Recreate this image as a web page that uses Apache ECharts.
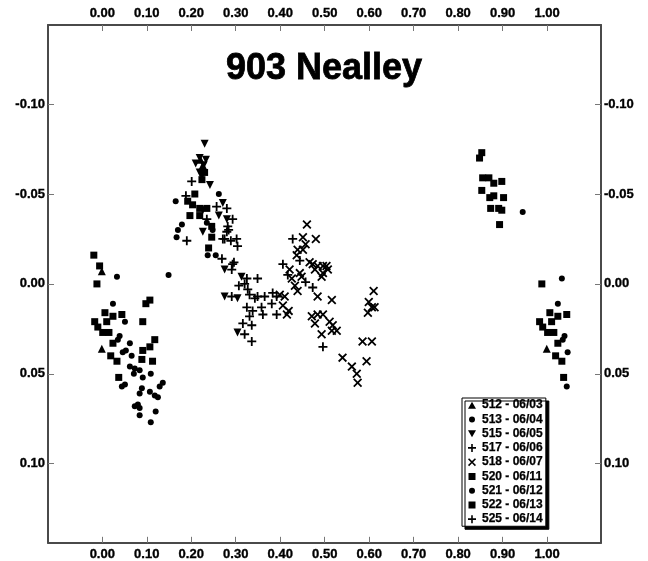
<!DOCTYPE html>
<html>
<head>
<meta charset="utf-8">
<title>903 Nealley</title>
<script src="https://cdn.jsdelivr.net/npm/echarts@6/dist/echarts.min.js"></script>
<style>
  html, body { margin: 0; padding: 0; background: #fff; }
  #chart { width: 648px; height: 561px; }
</style>
</head>
<body>
<div id="chart"></div>
<script>
// Tick positions for the phase (x) and differential magnitude (y) axes
const xTicks = [0.00, 0.10, 0.20, 0.30, 0.40, 0.50, 0.60, 0.70, 0.80, 0.90, 1.00];
const yTicks = [-0.10, -0.05, 0.00, 0.05, 0.10];

// Session labels (run number - date)
const sessionNames = ['512 - 06/03', '513 - 06/04', '515 - 06/05', '517 - 06/06', '518 - 06/07',
                      '520 - 06/11', '521 - 06/12', '522 - 06/13', '525 - 06/14'];

// Observations per session: [phase, delta magnitude]
const s512 = [[-0.001,0.036],[0.999,0.036],[-0.001,-0.007],[0.221,-0.069],[0.226,-0.066]];

const s513 = [[0.062,0.033],[0.066,0.040],[0.073,0.047],[0.084,0.048],[0.091,0.052],[0.109,0.050],
  [0.089,0.058],[0.107,0.060],[0.118,0.062],[0.125,0.063],[0.080,0.067],[0.084,0.069],[0.120,0.071],
  [0.084,0.073],[0.109,0.077],[0.136,0.055],[0.129,0.057],[0.051,0.021],[0.053,0.037],[0.051,0.056],
  [0.262,-0.050],[0.165,-0.046],[0.179,-0.033],[0.170,-0.030],[0.167,-0.026],[0.248,-0.030],
  [0.255,-0.016],[0.237,-0.016],[0.235,-0.034],[0.149,-0.005]];

const s515 = [[0.230,-0.078],[0.219,-0.070],[0.210,-0.067],[0.228,-0.066],[0.233,-0.069],[0.219,-0.062],
  [0.224,-0.060],[0.242,-0.055],[0.271,-0.045],[0.262,-0.038],[0.280,-0.036],[0.226,-0.029],
  [0.226,-0.041],[0.275,-0.008],[0.313,-0.004],[0.275,0.007],[0.304,0.008],[0.304,0.027]];

const s517 = [[0.201,-0.057],[0.188,-0.049],[0.257,-0.043],[0.293,-0.036],[0.235,-0.036],[0.282,-0.032],
  [0.280,-0.029],[0.190,-0.024],[0.271,-0.025],[0.289,-0.024],[0.304,-0.021],[0.269,-0.014],
  [0.293,-0.011],[0.291,-0.008],[0.280,-0.042],[0.284,-0.030],[0.275,-0.025],[0.302,-0.025],
  [0.296,-0.012],[0.325,-0.003],[0.349,-0.003],[0.307,0.001],[0.320,0.000],[0.327,0.003],
  [0.291,0.007],[0.331,0.006],[0.343,0.008]];

const s518 = [[0.399,0.006],[0.410,0.007],[0.406,0.012],[0.419,0.015],[0.415,0.017],[0.460,-0.033],
  [0.451,-0.026],[0.480,-0.025],[0.457,-0.022],[0.439,-0.019],[0.451,-0.019],[0.437,-0.016],
  [0.466,-0.012],[0.473,-0.011],[0.484,-0.010],[0.496,-0.010],[0.504,-0.010],[0.421,-0.008],
  [0.444,-0.006],[0.478,-0.008],[0.496,-0.006],[0.507,-0.008],[0.426,-0.003],[0.448,-0.004],
  [0.493,-0.004],[0.433,0.001],[0.439,0.004],[0.484,0.007],[0.516,0.009],[0.471,0.018],
  [0.478,0.022],[0.484,0.017],[0.496,0.017],[0.511,0.021],[0.518,0.023],[0.516,0.026],
  [0.527,0.026],[0.493,0.028],[0.540,0.041],[0.561,0.046],[0.572,0.050],[0.574,0.055],
  [0.585,0.032],[0.606,0.032],[0.594,0.043],[0.610,0.004],[0.599,0.010],[0.612,0.013],
  [0.597,0.016],[0.606,0.013]];

const s520 = [[-0.019,-0.016],[-0.006,-0.010],[-0.012,0.000],[0.006,0.016],[0.024,0.018],[0.044,0.017],
  [-0.017,0.021],[0.010,0.021],[-0.010,0.024],[0.001,0.027],[0.015,0.027],[0.024,0.033],
  [0.019,0.040],[0.033,0.043],[0.037,0.052],
  [0.988,0.000],[1.006,0.016],[1.024,0.018],[1.044,0.017],[0.983,0.021],[1.010,0.021],
  [0.990,0.024],[1.001,0.027],[1.015,0.027],[1.024,0.033],[1.019,0.040],[1.033,0.043],[1.037,0.052]];

const s521 = [[0.033,-0.004],[1.033,-0.003],[0.024,0.011],[1.024,0.011],[0.039,0.029],[1.039,0.029],
  [0.035,0.031],[1.035,0.031],[0.046,0.038],[1.046,0.038],[0.044,0.057],[1.044,0.057],
  [0.062,0.046],[0.071,0.050],[0.073,0.068],[0.084,0.061],[0.945,-0.040]];

const s522 = [[0.098,0.011],[0.107,0.009],[0.091,0.021],[0.118,0.031],[0.107,0.035],[0.091,0.037],
  [0.089,0.042],[0.113,0.043],
  [0.230,-0.062],[0.224,-0.058],[0.208,-0.050],[0.192,-0.046],[0.203,-0.044],[0.219,-0.042],
  [0.235,-0.042],[0.197,-0.038],[0.219,-0.038],[0.246,-0.032],[0.246,-0.026],[0.239,-0.020],
  [0.853,-0.073],[0.848,-0.070],[0.855,-0.059],[0.869,-0.059],[0.880,-0.056],[0.898,-0.057],
  [0.853,-0.052],[0.871,-0.048],[0.880,-0.049],[0.902,-0.048],[0.873,-0.042],[0.891,-0.042],
  [0.898,-0.041],[0.893,-0.033]];

const s525 = [[0.349,0.007],[0.365,0.007],[0.383,0.005],[0.392,0.007],[0.381,0.011],[0.325,0.013],
  [0.338,0.015],[0.358,0.013],[0.361,0.017],[0.392,0.017],[0.331,0.018],[0.316,0.022],
  [0.336,0.023],[0.320,0.028],[0.336,0.032],[0.428,-0.025],[0.444,-0.013],[0.406,-0.011],
  [0.417,-0.005],[0.457,-0.001],[0.473,0.002],[0.496,0.035]];

// Marker shapes
const PLUS  = 'path://M4,0H6V4H10V6H6V10H4V6H0V4H4Z';
const CROSS = 'path://M1.4,0L5,3.6L8.6,0L10,1.4L6.4,5L10,8.6L8.6,10L5,6.4L1.4,10L0,8.6L3.6,5L0,1.4Z';
const DOWN  = 'path://M0,0H10L5,8.7Z';
// Legend-only icons with empty corner points, so the glyph sits smaller inside the icon box
const DOT_ICON   = 'path://M0,0ZM10,10ZM5,2A3,3 0 1 1 5,8A3,3 0 1 1 5,2Z';
const UP_ICON    = 'path://M0,0ZM10,10ZM5,1.5L9,8.5H1Z';
const DOWN_ICON  = 'path://M0,0ZM10,10ZM1,1.5H9L5,8.5Z';
const SQ_ICON    = 'path://M0,0ZM10,10ZM1.5,1.5H8.5V8.5H1.5Z';
const PLUS_ICON  = 'path://M0,0ZM10,10ZM4.2,1H5.8V4.2H9V5.8H5.8V9H4.2V5.8H1V4.2H4.2Z';
const CROSS_ICON = 'path://M0,0ZM10,10ZM2.1,1L5,3.9L7.9,1L9,2.1L6.1,5L9,7.9L7.9,9L5,6.1L2.1,9L1,7.9L3.9,5L1,2.1Z';

const sessionData = [s512, s513, s515, s517, s518, s520, s521, s522, s525];
const markers = [
  ['triangle', 8], ['circle', 6], [DOWN, 8], [PLUS, 9], [CROSS, 9],
  ['rect', 7], ['circle', 6], ['rect', 7], [PLUS, 9]
];
const legendIcons = [UP_ICON, DOT_ICON, DOWN_ICON, PLUS_ICON, CROSS_ICON, SQ_ICON, DOT_ICON, SQ_ICON, PLUS_ICON];

const FONT = '"Liberation Sans", Arial, Helvetica, sans-serif';
const fmt = v => v.toFixed(2);

const tickStyle = { show: true, inside: true, length: 6, lineStyle: { color: '#777', width: 1 } };
const lineStyle = { show: true, onZero: false, lineStyle: { color: '#4a4a4a', width: 2 } };
const labelStyle = {
  color: '#000', fontFamily: FONT, fontWeight: 'bold', fontSize: 13,
  textBorderColor: '#000', textBorderWidth: 0.35
};

function xAxisDef(position) {
  return {
    type: 'value', position, min: -0.122, max: 1.121,
    axisLine: lineStyle,
    axisTick: Object.assign({ customValues: xTicks }, tickStyle),
    axisLabel: Object.assign({ customValues: xTicks, formatter: fmt, margin: 5 }, labelStyle),
    splitLine: { show: false }
  };
}
function yAxisDef(position) {
  return {
    type: 'value', position, inverse: true, min: -0.144, max: 0.144,
    axisLine: lineStyle,
    axisTick: Object.assign({ customValues: yTicks }, tickStyle),
    axisLabel: Object.assign({ customValues: yTicks, formatter: fmt, margin: 3 }, labelStyle),
    splitLine: { show: false }
  };
}

const chart = echarts.init(document.getElementById('chart'), null, { renderer: 'canvas' });
chart.setOption({
  animation: false,
  backgroundColor: '#fff',
  title: {
    text: '903 Nealley', left: 'center', top: 46,
    textStyle: {
      fontFamily: FONT, fontWeight: 'bold', fontSize: 36, color: '#000',
      textBorderColor: '#000', textBorderWidth: 0.8
    }
  },
  grid: { left: 48, right: 47, top: 25, bottom: 17, containLabel: false },
  xAxis: [xAxisDef('bottom'), xAxisDef('top')],
  yAxis: [yAxisDef('left'), yAxisDef('right')],
  legend: {
    orient: 'vertical', left: 462, top: 398,
    padding: [1, 3, 1, 5], itemGap: 2, itemWidth: 10, itemHeight: 10,
    backgroundColor: '#fff', borderColor: '#000', borderWidth: 1,
    shadowColor: '#000', shadowBlur: 0, shadowOffsetX: 3, shadowOffsetY: 3,
    textStyle: {
      color: '#000', fontFamily: FONT, fontWeight: 'bold', fontSize: 12, lineHeight: 12,
      textBorderColor: '#000', textBorderWidth: 0.25
    },
    data: sessionNames.map((n, i) => ({ name: n, icon: legendIcons[i] }))
  },
  series: sessionData.map((d, i) => ({
    name: sessionNames[i], type: 'scatter', data: d,
    symbol: markers[i][0], symbolSize: markers[i][1],
    itemStyle: { color: '#000', opacity: 1 },
    emphasis: { disabled: true }
  }))
});
</script>
</body>
</html>
